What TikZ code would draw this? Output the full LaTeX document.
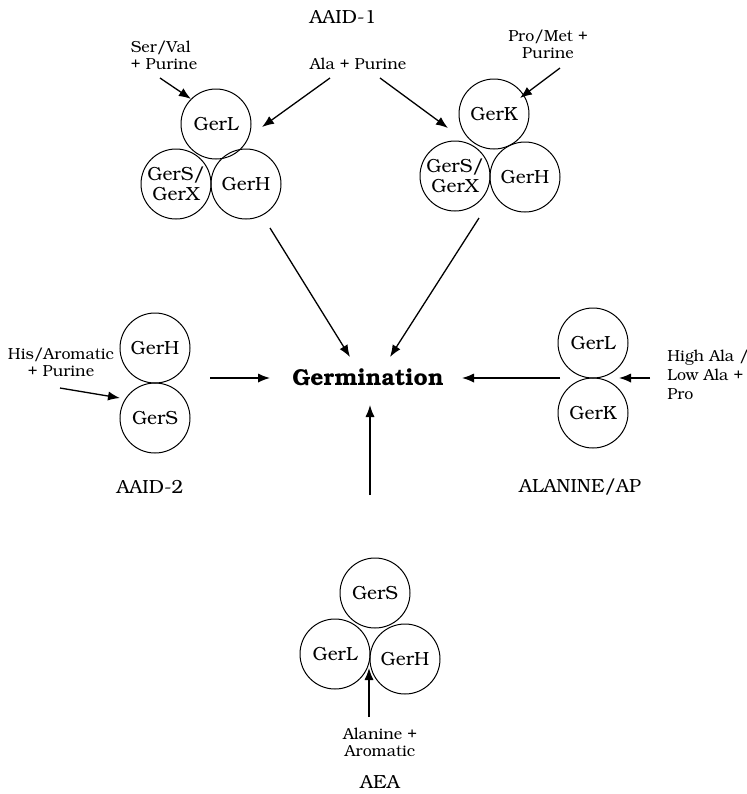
\documentclass[tikz,border=0pt]{standalone}
\usepackage[T1]{fontenc}
\usepackage{bookman}
\usetikzlibrary{arrows.meta}

\begin{document}
\begin{tikzpicture}[x=0.5pt,y=-0.5pt,
    ger/.style={draw, circle, line width=0.5pt, minimum size=35pt, inner sep=0pt,
      align=center, font=\fontsize{9.5}{10}\selectfont},
    pathlbl/.style={inner sep=0pt, font=\fontsize{9.5}{11}\selectfont},
    inlbl/.style={inner sep=0pt, align=center, font=\fontsize{8}{8.5}\selectfont},
    arr/.style={-{Latex[length=6pt,width=4.6pt]}, line width=0.65pt}]
    \useasboundingbox (0,0) rectangle (747,794);
    % AAID-1
    \node[pathlbl] (aaid1) at (343,17) {AAID-1};
    \node[inlbl, align=left] (serval) at (164,55) {Ser/Val\\+ Purine};
    \node[inlbl] (ala) at (358,64) {Ala + Purine};
    \node[inlbl] (promet) at (548,44) {Pro/Met +\\Purine};
    \node[ger] (tlL) at (216,124) {GerL};
    \node[ger] (tlS) at (176,184) {GerS/\\GerX};
    \node[ger] (tlH) at (246,184) {GerH};
    \node[ger] (trK) at (494,114) {GerK};
    \node[ger] (trS) at (455,176) {GerS/\\GerX};
    \node[ger] (trH) at (525,177) {GerH};
    % AAID-2
    \node[ger] (lH) at (155,348) {GerH};
    \node[ger] (lS) at (155,418) {GerS};
    \node[inlbl] (hisaro) at (61,362) {His/Aromatic\\+ Purine};
    \node[pathlbl] (aaid2) at (150,487) {AAID-2};
    % ALANINE/AP
    \node[ger] (rL) at (593,343) {GerL};
    \node[ger] (rK) at (593,413) {GerK};
    \node[inlbl, align=left, anchor=west, font=\fontsize{8}{9.5}\selectfont] (hiala) at (667,375) {High Ala /\\Low Ala +\\Pro};
    \node[pathlbl] (alap) at (580,487) {ALANINE/AP};
    % AEA
    \node[ger] (bS) at (375,593) {GerS};
    \node[ger] (bL) at (335,654) {GerL};
    \node[ger] (bH) at (405,659) {GerH};
    \node[inlbl] (alaaro) at (380,742) {Alanine +\\Aromatic};
    \node[pathlbl] (aea) at (380,782) {AEA};
    % centre
    \node[inner sep=0pt, font=\fontsize{11.5}{12}\selectfont\bfseries] (germ) at (368,378) {Germination};

    \coordinate (a1) at (160,78);
    \coordinate (a2) at (330,78);
    \coordinate (a3) at (262,127);
    \coordinate (a4) at (380,78);
    \coordinate (a5) at (448,128);
    \coordinate (a6) at (560,68);
    \coordinate (a7) at (520,98);
    \coordinate (c1) at (270,228);
    \coordinate (c2) at (350,357);
    \coordinate (c3) at (479,218);
    \coordinate (c4) at (390,357);
    \coordinate (h1) at (60,388);
    \coordinate (h2) at (120,398);
    \coordinate (m1) at (210,378);
    \coordinate (m2) at (270,378);
    \coordinate (m3) at (560,378);
    \coordinate (m4) at (462,378);
    \coordinate (r1) at (650,378);
    \coordinate (r2) at (619,378);
    \coordinate (b1) at (369,717);
    \coordinate (b2) at (369,668);
    \coordinate (v1) at (370,495);
    \coordinate (v2) at (370,405);

    \draw[arr] (a1) -- (tlL.135);
    \draw[arr] (a2) -- (a3);
    \draw[arr] (a4) -- (a5);
    \draw[arr] (a6) -- (a7);
    \draw[arr] (c1) -- (c2);
    \draw[arr] (c3) -- (c4);
    \draw[arr] (h1) -- (h2);
    \draw[arr] (m1) -- (m2);
    \draw[arr] (m3) -- (m4);
    \draw[arr] (r1) -- (r2);
    \draw[arr] (b1) -- (b2);
    \draw[arr] (v1) -- (v2);
\end{tikzpicture}
\end{document}
